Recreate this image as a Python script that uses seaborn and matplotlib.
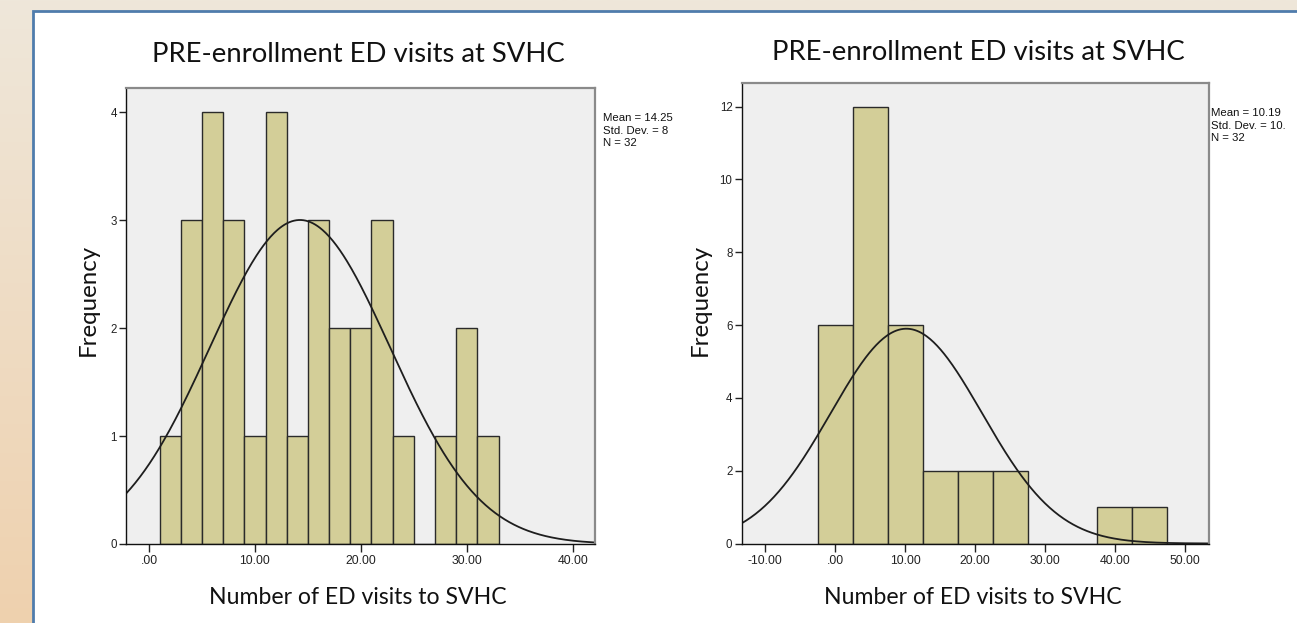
import numpy as np
import pandas as pd
import seaborn as sns
import matplotlib
matplotlib.use("Agg")
import matplotlib.pyplot as plt
from matplotlib.patches import Rectangle

# ---------------- data ----------------
title_text = "PRE-enrollment ED visits at SVHC"
xlabel_text = "Number of ED visits to SVHC"
ylabel_text = "Frequency"

left_edges = [1, 3, 5, 7, 9, 11, 13, 15, 17, 19, 21, 23, 25, 27, 29, 31, 33]
left_counts = [1, 3, 4, 3, 1, 4, 1, 3, 2, 2, 3, 1, 0, 1, 2, 1]
left_mean = 14.25
left_std = 8.51
left_n = 32
left_xticks = [0, 10, 20, 30, 40]
left_xticklabels = [".00", "10.00", "20.00", "30.00", "40.00"]
left_yticks = [0, 1, 2, 3, 4]
left_stats = ["Mean = 14.25", "Std. Dev. = 8", "N = 32"]

right_edges = [-2.5, 2.5, 7.5, 12.5, 17.5, 22.5, 27.5, 32.5, 37.5, 42.5, 47.5]
right_counts = [6, 12, 6, 2, 2, 2, 0, 0, 1, 1]
right_mean = 10.19
right_std = 10.82
right_n = 32
right_xticks = [-10, 0, 10, 20, 30, 40, 50]
right_xticklabels = ["-10.00", ".00", "10.00", "20.00", "30.00", "40.00", "50.00"]
right_yticks = [0, 2, 4, 6, 8, 10, 12]
right_stats = ["Mean = 10.19", "Std. Dev. = 10.", "N = 32"]

# ---------------- style ----------------
sns.set_theme(style="white")
plt.rcParams["font.family"] = ["Liberation Sans", "DejaVu Sans"]

W, H = 1297, 623
fig = plt.figure(figsize=(W / 100, H / 100), dpi=100)

def fx(px):
    return px / W

def fy(py):
    return 1 - py / H

# background gradient
bg = fig.add_axes([0, 0, 1, 1], zorder=-3)
top_c = np.array([238, 231, 218]) / 255
bot_c = np.array([239, 209, 174]) / 255
t = np.linspace(0, 1, 256)[:, None]
grad = top_c[None, :] * (1 - t) + bot_c[None, :] * t
bg.imshow(grad[:, None, :], aspect="auto", extent=[0, 1, 0, 1])
bg.set_axis_off()

# white panel with blue border
panel = Rectangle((fx(33), fy(640)), fx(1300 - 33), fy(11) - fy(640),
                  transform=fig.transFigure, facecolor="white",
                  edgecolor="#4f7cac", linewidth=2, zorder=-2)
fig.patches.append(panel)

BAR = "#d3ce98"
PLOTBG = "#efefef"

def make_panel(rect, edges, counts, mean, std, n, xlim, ylim,
               xticks, xticklabels, yticks, stats, stats_x, stats_y,
               clip_right, title_xy, xlabel_xy, ylabel_xy):
    ax = fig.add_axes(rect)
    ax.set_facecolor(PLOTBG)
    centers = [(a + b) / 2 for a, b in zip(edges[:-1], edges[1:])]
    df = pd.DataFrame({"x": centers, "w": counts})
    sns.histplot(data=df, x="x", weights="w", bins=edges, ax=ax,
                 color=BAR, edgecolor="#2a2a2a", linewidth=1.0, alpha=1.0)
    width = edges[1] - edges[0]
    xs = np.linspace(xlim[0], xlim[1], 400)
    ys = n * width * np.exp(-0.5 * ((xs - mean) / std) ** 2) / (std * np.sqrt(2 * np.pi))
    ax.plot(xs, ys, color="#1e1e1e", linewidth=1.3)
    ax.set_xlim(*xlim)
    ax.set_ylim(*ylim)
    ax.set_xticks(xticks)
    ax.set_xticklabels(xticklabels)
    ax.set_yticks(yticks)
    ax.set_yticklabels([str(v) for v in yticks])
    ax.set_xlabel("")
    ax.set_ylabel("")
    ax.tick_params(axis="x", direction="out", length=6, width=1, color="#222222",
                   labelsize=8.8, labelcolor="#222222", pad=2, bottom=True)
    ax.tick_params(axis="y", direction="out", length=5, width=1, color="#222222",
                   labelsize=8.3, labelcolor="#222222", pad=1.5, left=True)
    for s in ["left", "bottom"]:
        ax.spines[s].set_color("#111111")
        ax.spines[s].set_linewidth(1.0)
    for s in ["top", "right"]:
        ax.spines[s].set_color("#8a8a8a")
        ax.spines[s].set_linewidth(1.6)
    # stats text
    for line, yb in zip(stats, stats_y):
        tx = fig.text(fx(stats_x), fy(yb), line, fontsize=8.2, color="#111111",
                      ha="left", va="baseline")
        tx.set_clip_on(True)
        tx.set_clip_box(matplotlib.transforms.Bbox([[0, 0], [clip_right, H]]))
    # title, labels
    ttl = fig.text(fx(title_xy[0]), fy(title_xy[1]), title_text,
                   family=["Lato", "DejaVu Sans"], fontsize=19, color="#111111",
                   ha="center", va="center")
    xl = fig.text(fx(xlabel_xy[0]), fy(xlabel_xy[1]), xlabel_text,
                  family=["Lato", "DejaVu Sans"], fontsize=15, color="#111111",
                  ha="center", va="center")
    yl = fig.text(fx(ylabel_xy[0]), fy(ylabel_xy[1]), ylabel_text,
                  family=["Lato", "DejaVu Sans"], fontsize=15, color="#111111",
                  ha="center", va="center", rotation=90)
    return ax, ttl, xl, yl

axL, tL, xL, yL = make_panel(
    [fx(126), fy(544), fx(595) - fx(126), fy(87.5) - fy(544)],
    left_edges, left_counts, left_mean, left_std, left_n,
    (-2.17, 42.1), (0, 4.227),
    left_xticks, left_xticklabels, left_yticks, left_stats,
    603, [121, 134, 146], 675, (358.5, 55), (358, 598), (88, 300))

axR, tR, xR, yR = make_panel(
    [fx(741.5), fy(543.5), fx(1209) - fx(741.5), fy(83.3) - fy(543.5)],
    right_edges, right_counts, right_mean, right_std, right_n,
    (-13.36, 53.43), (0, 12.64),
    right_xticks, right_xticklabels, right_yticks, right_stats,
    1211, [116, 129, 141], W, (978.5, 52), (973, 598), (700, 300))

# fit title / label sizes to the reference extents
fig.canvas.draw()
r = fig.canvas.get_renderer()
for txt, target, dim in [(tL, 413, "w"), (tR, 413, "w"), (xL, 298, "w"), (xR, 298, "w"),
                         (yL, 112, "h"), (yR, 112, "h")]:
    bb = txt.get_window_extent(r)
    cur = bb.width if dim == "w" else bb.height
    txt.set_fontsize(txt.get_fontsize() * target / cur)

fig.savefig("out.png", dpi=100)
